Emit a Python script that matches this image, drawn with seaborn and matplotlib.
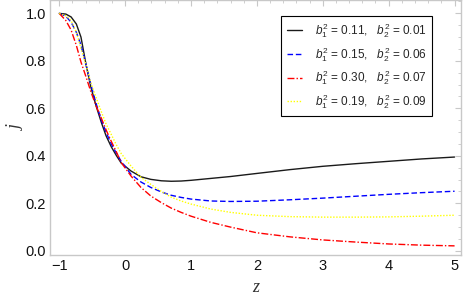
import numpy as np
import pandas as pd
import matplotlib
matplotlib.use("Agg")
import matplotlib.pyplot as plt
import seaborn as sns
from matplotlib.ticker import MultipleLocator

sns.set_theme(style="white")
plt.rcParams['font.family'] = ['Liberation Sans', 'DejaVu Sans']
plt.rcParams['mathtext.fontset'] = 'custom'
plt.rcParams['mathtext.rm'] = 'Liberation Sans'
plt.rcParams['mathtext.it'] = 'Liberation Sans:italic'

z = [-1.0, -0.9, -0.82, -0.74, -0.67, -0.59, -0.52, -0.44, -0.36, -0.29, -0.21, -0.13, -0.06,
     0.09, 0.24, 0.39, 0.55, 0.7, 0.85, 1.0, 1.3, 1.6, 2.0, 2.5, 3.0, 3.5, 4.0, 4.5, 5.0]

j_black = [1.0, 0.997, 0.985, 0.955, 0.90, 0.78, 0.69, 0.61, 0.54, 0.485, 0.438, 0.40, 0.37,
           0.336, 0.312, 0.301, 0.295, 0.293, 0.294, 0.297, 0.305, 0.313, 0.326, 0.342, 0.356, 0.367, 0.377, 0.387, 0.395]
j_blue = [1.0, 0.988, 0.963, 0.92, 0.866, 0.78, 0.70, 0.62, 0.55, 0.50, 0.45, 0.41, 0.377,
          0.322, 0.29, 0.267, 0.248, 0.234, 0.225, 0.218, 0.21, 0.208, 0.209, 0.215, 0.222, 0.23, 0.238, 0.245, 0.251]
j_red = [1.0, 0.97, 0.93, 0.865, 0.795, 0.73, 0.67, 0.61, 0.558, 0.51, 0.461, 0.415, 0.372,
         0.315, 0.267, 0.231, 0.203, 0.18, 0.162, 0.146, 0.12, 0.1, 0.076, 0.059, 0.046, 0.037, 0.029, 0.024, 0.021]
j_yellow = [1.0, 0.99, 0.97, 0.92, 0.853, 0.78, 0.707, 0.645, 0.585, 0.535, 0.49, 0.445, 0.41,
            0.357, 0.31, 0.28, 0.25, 0.226, 0.21, 0.197, 0.176, 0.162, 0.15, 0.144, 0.142, 0.142, 0.143, 0.146, 0.15]

labels = [r"$b_1^2$ = 0.11,   $b_2^2$ = 0.01",
          r"$b_1^2$ = 0.15,   $b_2^2$ = 0.06",
          r"$b_1^2$ = 0.30,   $b_2^2$ = 0.07",
          r"$b_1^2$ = 0.19,   $b_2^2$ = 0.09"]
series = [j_black, j_blue, j_red, j_yellow]
colors = ["#1a1a1a", "#0000ff", "#ff0000", "#ffff00"]
styles = ["-", (0, (4, 2)), (0, (5, 1.5, 1, 1.5)), (0, (1, 1.2))]

fig = plt.figure(figsize=(4.63, 3.02), dpi=100)
ax = fig.add_axes([0.108, 0.156, 0.888, 0.843])

for lab, ys, c, ls in zip(labels, series, colors, styles):
    df = pd.DataFrame({"z": z, "j": ys})
    sns.lineplot(data=df, x="z", y="j", ax=ax, color=c, linestyle=ls, linewidth=1.0, label=lab)

ax.set_xlim(-1.14, 5.1)
ax.set_ylim(-0.017, 1.055)
ax.xaxis.set_minor_locator(MultipleLocator(0.2))
ax.yaxis.set_minor_locator(MultipleLocator(0.05))
ax.set_xticks([-1, 0, 1, 2, 3, 4, 5])
ax.set_xticklabels(["\u22121", "0", "1", "2", "3", "4", "5"])
ax.set_yticks([0.0, 0.2, 0.4, 0.6, 0.8, 1.0])
ax.set_yticklabels(["0.0", "0.2", "0.4", "0.6", "0.8", "1.0"])

frame_c = "#c8c8c8"
for sp in ax.spines.values():
    sp.set_color(frame_c)
    sp.set_linewidth(1.0)
ax.tick_params(which="both", direction="in", color=frame_c, top=True, right=True,
               labeltop=False, labelright=False, labelsize=10.5, labelcolor="#111111", pad=3)
ax.tick_params(which="major", length=4, width=0.8)
ax.tick_params(which="minor", length=2, width=0.6)

ax.set_xlabel("z", family="Liberation Serif", style="italic", fontsize=13, color="#333333")
ax.set_ylabel("j", family="Liberation Serif", style="italic", fontsize=13, color="#333333")
ax.xaxis.set_label_coords(0.5, -0.095)
ax.yaxis.set_label_coords(-0.06, 0.5)

leg = ax.legend(loc="upper right", bbox_to_anchor=(0.929, 0.938), borderaxespad=0,
                fontsize=8.5, handlelength=1.3, handletextpad=1.1, labelspacing=0.42,
                frameon=True, fancybox=False, edgecolor="black", framealpha=1,
                borderpad=0.45)
leg.get_frame().set_linewidth(0.8)

fig.savefig("out.png", dpi=100)
